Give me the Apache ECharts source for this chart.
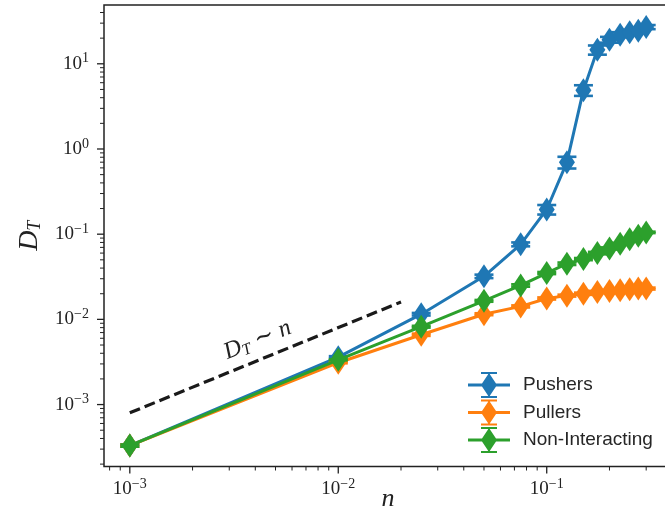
<!DOCTYPE html>
<html>
<head>
<meta charset="utf-8">
<script src="https://cdn.jsdelivr.net/npm/echarts@6/dist/echarts.min.js"></script>
<style>html,body{margin:0;padding:0;background:#fff}#c{width:665px;height:516px}</style>
</head>
<body>
<div id="c"></div>
<script>
// ---- data ----
const nValues = [0.001, 0.01, 0.025, 0.05, 0.075, 0.1, 0.125, 0.15, 0.175, 0.2, 0.225, 0.25, 0.275, 0.3];
const pushers = [3.3e-4, 3.6e-3, 0.0115, 0.032, 0.076, 0.195, 0.70, 4.9, 14.6, 19.2, 22, 23.5, 24.5, 27];
const pushersErr = [1e-5, 1e-4, 4e-4, 1.5e-3, 4e-3, 0.025, 0.11, 0.7, 1.8, 1.5, 1.5, 1.5, 1.5, 1.5];
const pullers = [3.3e-4, 3.1e-3, 0.0066, 0.0115, 0.0142, 0.0176, 0.019, 0.020, 0.021, 0.0215, 0.022, 0.0225, 0.023, 0.023];
const pullersErr = [1e-5, 5e-5, 2e-4, 3e-4, 4e-4, 5e-4, 5e-4, 6e-4, 6e-4, 6e-4, 6e-4, 6e-4, 6e-4, 6e-4];
const nonInteracting = [3.3e-4, 3.35e-3, 0.0082, 0.0165, 0.025, 0.035, 0.045, 0.051, 0.06, 0.068, 0.077, 0.087, 0.096, 0.105];
const nonInteractingErr = [1e-5, 5e-5, 2e-4, 4e-4, 8e-4, 1e-3, 1.5e-3, 1.5e-3, 2e-3, 2e-3, 2e-3, 2e-3, 2e-3, 2e-3];
const guideN = [0.001, 0.02];
const guideD = [8e-4, 0.016];
const seriesNames = ['Pushers', 'Pullers', 'Non-Interacting'];
const colors = ['#1f77b4', '#ff7f0e', '#2ca02c'];

const XMIN = 7.52e-4, XMAX = 0.399, YMIN = 1.875e-4, YMAX = 49;
const INK = '#222222';
const SERIF = '"Liberation Serif", "DejaVu Serif", serif';
const SANS = '"Liberation Sans", Arial, sans-serif';

function pow10Label(v) {
  const e = Math.log10(v);
  const r = Math.round(e);
  if (Math.abs(e - r) > 1e-6) return '';
  const s = r < 0 ? '\u2212' + (-r) : String(r);
  return '{b|10}{s|' + s + '}';
}
const labelRich = {
  b: {fontFamily: SERIF, fontSize: 19, color: INK},
  s: {fontFamily: SERIF, fontSize: 14, color: INK, padding: [0, 0, 10, 0]}
};

// tick marks (major at decades, minor at 2..9)
const tickData = [];
for (let d = -5; d <= 2; d++) {
  for (let k = 1; k <= 9; k++) {
    const v = k * Math.pow(10, d);
    const len = k === 1 ? 7 : 4;
    if (v >= XMIN && v <= XMAX) tickData.push([v, YMIN, len, 0, k === 1 ? 1.3 : 1]);
    if (v >= YMIN && v <= YMAX) tickData.push([XMIN, v, len, 1, k === 1 ? 1.3 : 1]);
  }
}

function errData(vals, errs) {
  return nValues.map((n, i) => [n, vals[i], errs[i]]);
}
function errSeries(vals, errs, color, z) {
  return {
    type: 'custom', z: z, silent: true, clip: false,
    data: errData(vals, errs),
    renderItem: function (params, api) {
      const n = api.value(0), y = api.value(1), e = api.value(2);
      const t = api.coord([n, y + e]);
      const b = api.coord([n, Math.max(y - e, 1e-12)]);
      const hw = 9.5;
      const st = {stroke: color, lineWidth: 2.6};
      return {type: 'group', children: [
        {type: 'line', shape: {x1: t[0], y1: t[1], x2: b[0], y2: b[1]}, style: st},
        {type: 'line', shape: {x1: t[0] - hw, y1: t[1], x2: t[0] + hw, y2: t[1]}, style: st},
        {type: 'line', shape: {x1: b[0] - hw, y1: b[1], x2: b[0] + hw, y2: b[1]}, style: st}
      ]};
    }
  };
}
function lineSeries(name, vals, color, z) {
  return {
    name: name, type: 'line', z: z,
    data: nValues.map((n, i) => [n, vals[i]]),
    symbol: 'diamond', symbolSize: [16, 24], showAllSymbol: true,
    itemStyle: {color: color},
    lineStyle: {color: color, width: 3},
    emphasis: {disabled: true}
  };
}

const legendIcon = 'path://M0 11.5H42V14.5H0Z M21 1L29 13L21 25L13 13Z M20 0H22V26H20Z M13 0H29V2H13Z M13 24H29V26H13Z';

const chart = echarts.init(document.getElementById('c'), null, {renderer: 'canvas'});
const option = {
  animation: false,
  backgroundColor: '#ffffff',
  grid: {left: 104, top: 5, width: 568, height: 461.5, outerBoundsMode: 'none', containLabel: false,
         show: true, borderColor: INK, borderWidth: 1.5, backgroundColor: 'transparent'},
  xAxis: {
    type: 'log', logBase: 10, min: XMIN, max: XMAX,
    axisLine: {show: false}, axisTick: {show: false}, splitLine: {show: false}, minorTick: {show: false},
    axisLabel: {formatter: pow10Label, rich: labelRich, margin: 11, hideOverlap: false},
    name: '{i|n}', nameLocation: 'middle', nameGap: 20, nameMoveOverlap: false,
    nameTextStyle: {rich: {i: {fontFamily: SERIF, fontStyle: 'italic', fontSize: 26, color: INK}}}
  },
  yAxis: {
    type: 'log', logBase: 10, min: YMIN, max: YMAX,
    axisLine: {show: false}, axisTick: {show: false}, splitLine: {show: false}, minorTick: {show: false},
    axisLabel: {formatter: pow10Label, rich: labelRich, margin: 15, hideOverlap: false},
    name: '{i|D}{t|T}', nameLocation: 'middle', nameGap: 60, nameRotate: 90, nameMoveOverlap: false,
    nameTextStyle: {rich: {
      i: {fontFamily: SERIF, fontStyle: 'italic', fontSize: 28, color: INK},
      t: {fontFamily: SERIF, fontStyle: 'italic', fontSize: 18, color: INK, padding: [11, 0, 0, 0]}
    }}
  },
  legend: {
    orient: 'vertical', left: 468, top: 372, padding: 0,
    itemWidth: 42, itemHeight: 26, itemGap: 1.5,
    data: seriesNames.map((n, i) => ({name: n, icon: legendIcon, itemStyle: {color: colors[i]}})),
    textStyle: {fontFamily: SANS, fontSize: 19, color: '#262626', padding: [0, 0, 0, 8]},
    selectedMode: false
  },
  series: [
    {
      type: 'custom', name: 'ticks', silent: true, clip: false, z: 1,
      data: tickData,
      renderItem: function (params, api) {
        const p = api.coord([api.value(0), api.value(1)]);
        const len = api.value(2), o = api.value(3), w = api.value(4);
        const shape = o === 0 ? {x1: p[0], y1: p[1], x2: p[0], y2: p[1] + len}
                              : {x1: p[0], y1: p[1], x2: p[0] - len, y2: p[1]};
        return {type: 'line', shape: shape, style: {stroke: INK, lineWidth: w}};
      }
    },
    {
      type: 'line', name: 'guide', z: 2, silent: true,
      data: guideN.map((n, i) => [n, guideD[i]]),
      symbol: 'none',
      lineStyle: {color: '#1a1a1a', width: 3.2, type: [11, 5]}
    },
    errSeries(pushers, pushersErr, colors[0], 3),
    lineSeries(seriesNames[0], pushers, colors[0], 4),
    errSeries(pullers, pullersErr, colors[1], 5),
    lineSeries(seriesNames[1], pullers, colors[1], 6),
    errSeries(nonInteracting, nonInteractingErr, colors[2], 7),
    lineSeries(seriesNames[2], nonInteracting, colors[2], 8)
  ]
};
chart.setOption(option);

const anchor = chart.convertToPixel({gridIndex: 0}, [0.0041, 0.0057]);
chart.setOption({
  graphic: [{
    type: 'text', x: anchor[0], y: anchor[1], rotation: 22 * Math.PI / 180,
    style: {
      text: '{i|D}{t|T}{r| \u223C }{i|n}',
      align: 'center', verticalAlign: 'middle',
      rich: {
        i: {fontFamily: SERIF, fontStyle: 'italic', fontSize: 24, fill: INK},
        t: {fontFamily: SERIF, fontStyle: 'italic', fontSize: 16, fill: INK, padding: [10, 0, 0, 0]},
        r: {fontFamily: SERIF, fontSize: 24, fill: INK}
      }
    }
  }]
});
</script>
</body>
</html>
